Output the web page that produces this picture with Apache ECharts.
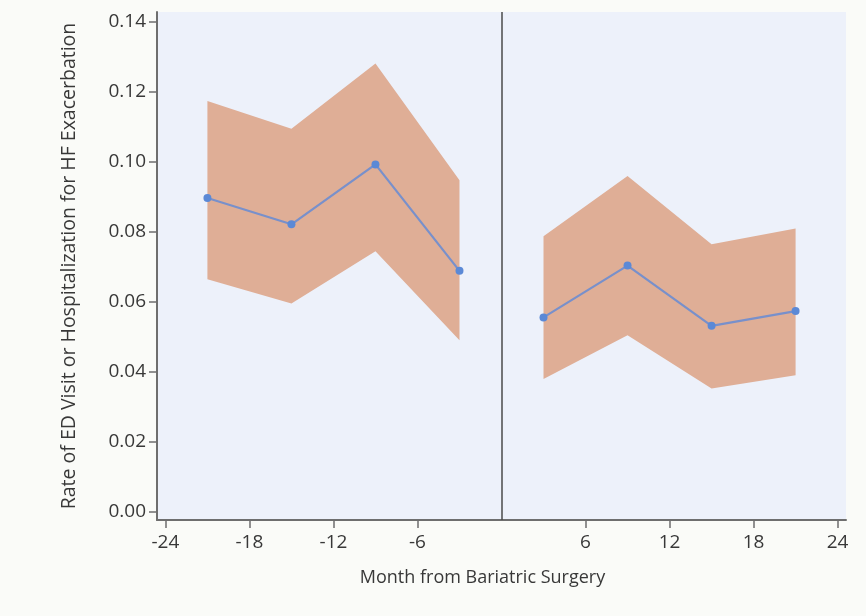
<!DOCTYPE html>
<html>
<head>
<meta charset="utf-8">
<script src="https://cdn.jsdelivr.net/npm/echarts@6/dist/echarts.min.js"></script>
<style>
html,body{margin:0;padding:0;background:#fafbf8;}
#chart{width:866px;height:616px;}
</style>
</head>
<body>
<div id="chart"></div>
<script>
// Data
var monthsPre = [-21, -15, -9, -3];
var monthsPost = [3, 9, 15, 21];
var ratePre = [0.0896, 0.0821, 0.0992, 0.0688];
var ratePost = [0.0555, 0.0703, 0.0531, 0.0573];
var upperPre = [0.1173, 0.1094, 0.1280, 0.0947];
var upperPost = [0.0787, 0.0959, 0.0764, 0.0809];
var lowerPre = [0.0664, 0.0595, 0.0744, 0.0490];
var lowerPost = [0.0379, 0.0504, 0.0352, 0.0390];
var xTicks = [-24, -18, -12, -6, 6, 12, 18, 24];
var yTicks = [0, 0.02, 0.04, 0.06, 0.08, 0.10, 0.12, 0.14];
var surgeryMonth = 0;

function pairs(xs, ys) { return xs.map(function (x, i) { return [x, ys[i]]; }); }

var FONT = '"Open Sans", "Noto Sans", sans-serif';
var bandColor = '#dfae96';
var lineColor = '#7890cb';
var dotColor = '#5b89d6';
var textColor = '#383838';

// Confidence band drawn as one polygon through the library's coordinate system
function bandSeries(xs, up, lo) {
  var rows = xs.map(function (x, i) { return [x, lo[i], up[i]]; });
  return {
    type: 'custom', silent: true, z: 1,
    data: [0],
    renderItem: function (params, api) {
      var pts = [];
      for (var i = 0; i < rows.length; i++) pts.push(api.coord([rows[i][0], rows[i][2]]));
      for (var j = rows.length - 1; j >= 0; j--) pts.push(api.coord([rows[j][0], rows[j][1]]));
      return { type: 'polygon', shape: { points: pts }, style: { fill: bandColor } };
    },
    encode: { x: [], y: [] }
  };
}
function rateSeries(xs, ys) {
  return {
    type: 'line', data: pairs(xs, ys), symbol: 'circle', symbolSize: 8,
    lineStyle: { color: lineColor, width: 2.2 },
    itemStyle: { color: dotColor },
    z: 3
  };
}

var chart = echarts.init(document.getElementById('chart'));
var series = [
  bandSeries(monthsPre, upperPre, lowerPre),
  bandSeries(monthsPost, upperPost, lowerPost),
  rateSeries(monthsPre, ratePre),
  rateSeries(monthsPost, ratePost)
];
series[3].markLine = {
  silent: true, symbol: 'none', label: { show: false },
  lineStyle: { color: '#4a4a4a', width: 1.5, type: 'solid' },
  data: [{ xAxis: surgeryMonth }]
};

chart.setOption({
  backgroundColor: '#fafbf8',
  animation: false,
  grid: {
    left: 157, right: 20, top: 12, bottom: 96,
    show: true, backgroundColor: '#edf1fa', borderWidth: 0
  },
  xAxis: {
    type: 'value', min: -24.6, max: 24.6,
    name: 'Month from Bariatric Surgery', nameLocation: 'middle', nameGap: 49,
    nameTextStyle: { fontFamily: FONT, fontSize: 18, color: textColor, padding: [0, 38, 0, 0] },
    axisLine: { show: true, onZero: false, lineStyle: { color: '#6e6e6e', width: 2 } },
    axisTick: { show: true, length: 8, customValues: xTicks, lineStyle: { color: '#6e6e6e', width: 1.5 } },
    axisLabel: { customValues: xTicks, fontFamily: FONT, fontSize: 19, color: textColor, margin: 13 },
    splitLine: { show: false }
  },
  yAxis: {
    type: 'value', min: -0.00237, max: 0.14274,
    name: 'Rate of ED Visit or Hospitalization for HF Exacerbation',
    nameLocation: 'middle', nameGap: 78,
    nameTextStyle: { fontFamily: FONT, fontSize: 19.5, color: textColor },
    axisLine: { show: true, onZero: false, lineStyle: { color: '#6e6e6e', width: 2 } },
    axisTick: { show: true, length: 8, customValues: yTicks, lineStyle: { color: '#6e6e6e', width: 1.5 } },
    axisLabel: {
      customValues: yTicks, fontFamily: FONT, fontSize: 19, color: textColor, margin: 11,
      formatter: function (v) { return v.toFixed(2); }
    },
    splitLine: { show: false }
  },
  series: series
});
</script>
</body>
</html>
